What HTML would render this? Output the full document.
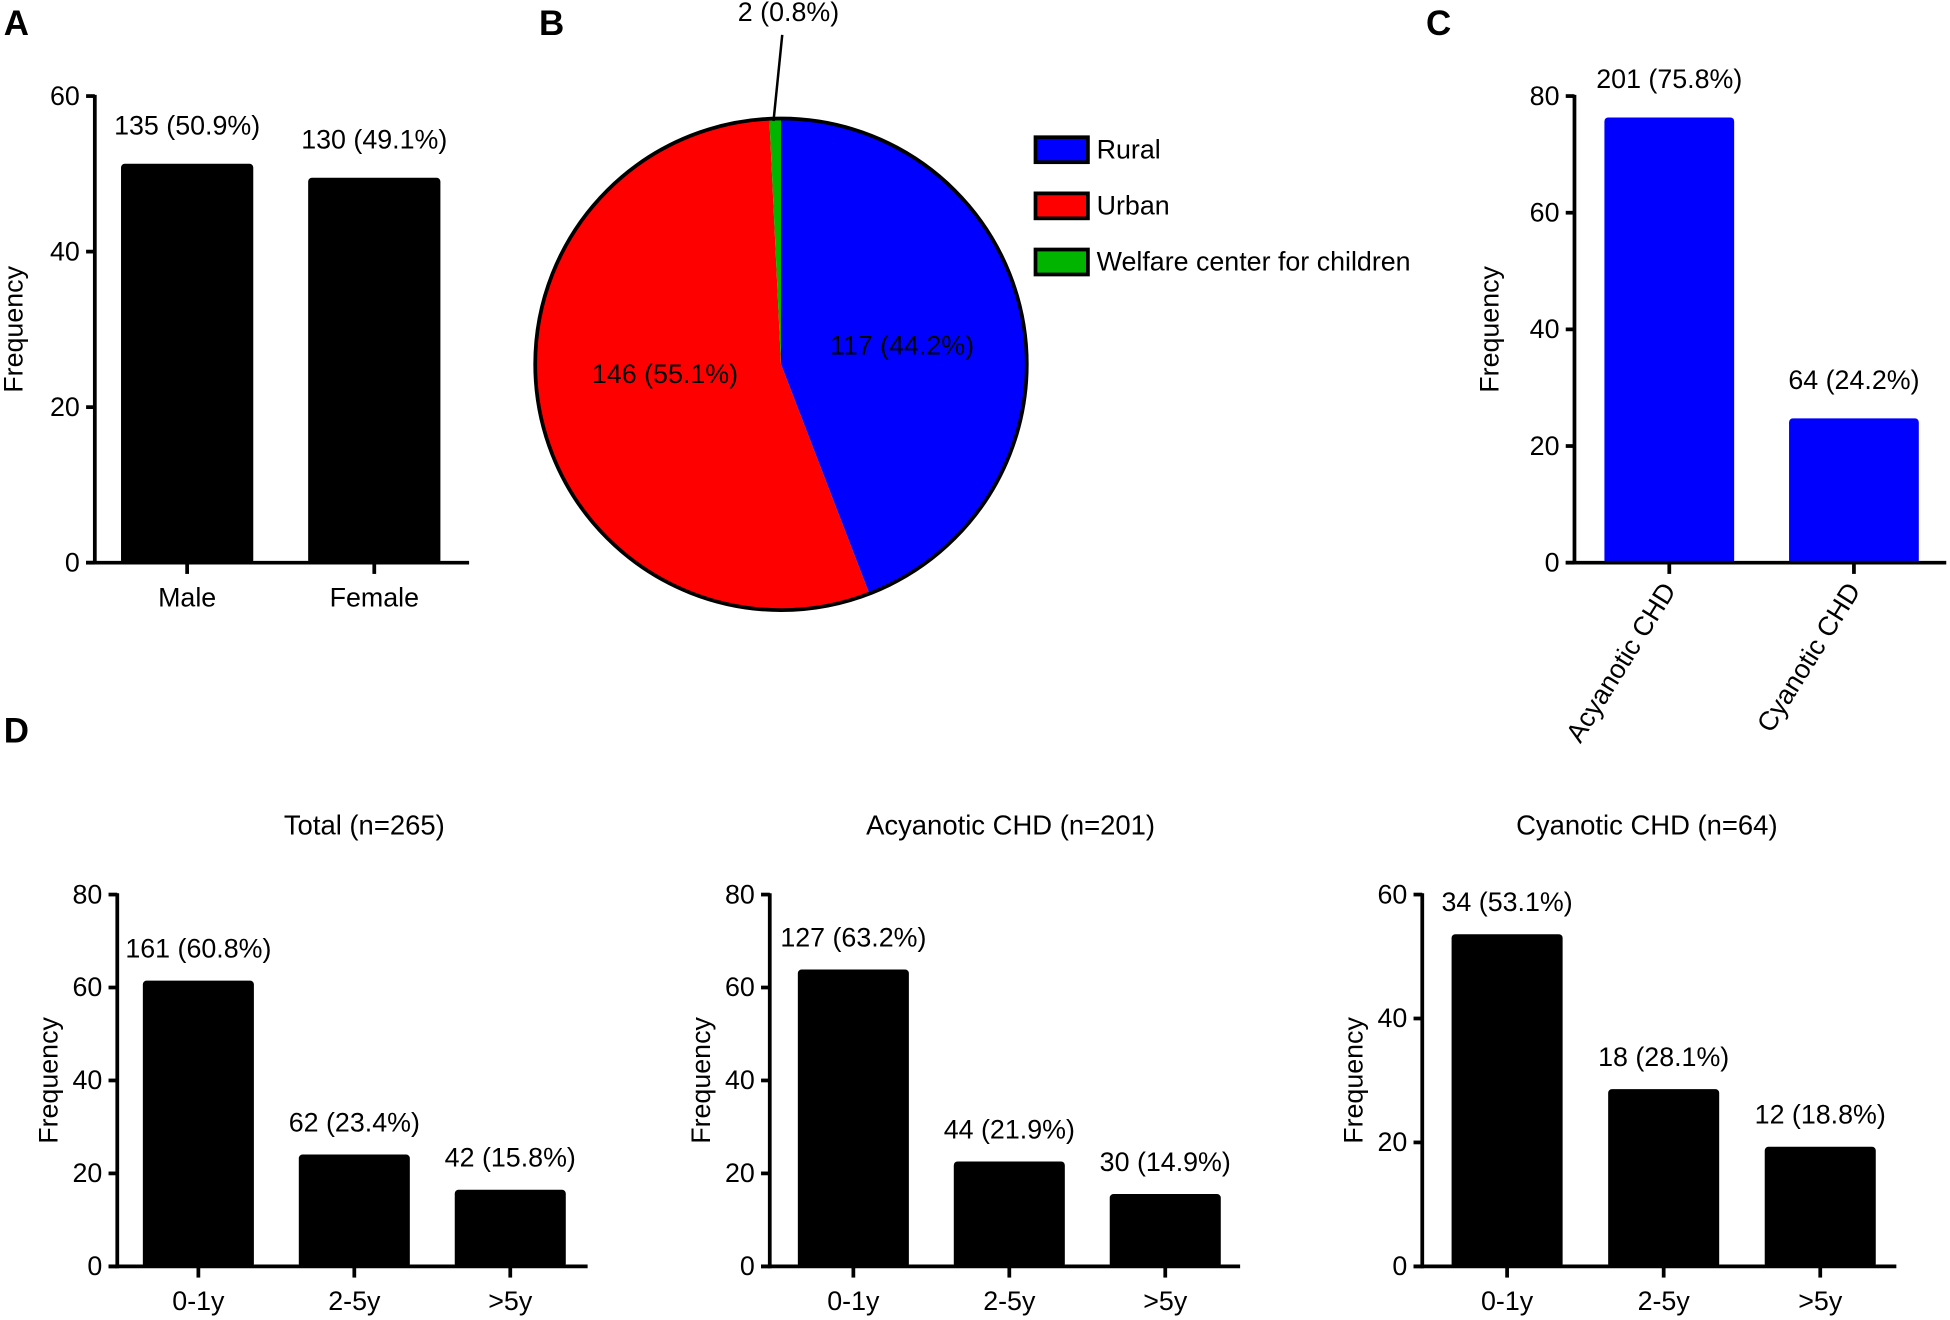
<!DOCTYPE html>
<html><head><meta charset="utf-8"><style>
html,body{margin:0;padding:0;background:#fff;}
svg{display:block;font-family:"Liberation Sans",Arial,sans-serif;}
</style></head><body>
<svg id="fig" width="1950" height="1320" viewBox="0 0 1563 1058" preserveAspectRatio="none" xmlns="http://www.w3.org/2000/svg">
<text x="3" y="28" font-size="28" font-weight="bold">A</text>
<text x="432" y="28" font-size="28" font-weight="bold">B</text>
<text x="1143" y="28" font-size="28" font-weight="bold">C</text>
<text x="3" y="595" font-size="28" font-weight="bold">D</text>
<g id="charts"></g>
</svg>
<script>
// Panel A
const catsA = ["Male","Female"];
const valsA = [50.9, 49.1];
const labelsA = ["135 (50.9%)","130 (49.1%)"];
const ticksA = [0,20,40,60];
// Panel C
const catsC = ["Acyanotic CHD","Cyanotic CHD"];
const valsC = [75.8, 24.2];
const labelsC = ["201 (75.8%)","64 (24.2%)"];
const ticksC = [0,20,40,60,80];
// Panel D
const catsD = ["0-1y","2-5y",">5y"];
const valsD1 = [60.8, 23.4, 15.8];
const labelsD1 = ["161 (60.8%)","62 (23.4%)","42 (15.8%)"];
const valsD2 = [63.2, 21.9, 14.9];
const labelsD2 = ["127 (63.2%)","44 (21.9%)","30 (14.9%)"];
const valsD3 = [53.1, 28.1, 18.8];
const labelsD3 = ["34 (53.1%)","18 (28.1%)","12 (18.8%)"];
const ticksD80 = [0,20,40,60,80];
const ticksD60 = [0,20,40,60];
// Panel B
const pieCats = ["Rural","Urban","Welfare center for children"];
const pieVals = [117, 146, 2];
const pieLabels = ["117 (44.2%)","146 (55.1%)","2 (0.8%)"];

const FS=21.5;
const NS="http://www.w3.org/2000/svg";
const root=document.getElementById('charts');
function el(tag,attrs,parent,txt){const e=document.createElementNS(NS,tag);for(const k in attrs)e.setAttribute(k,attrs[k]);if(txt!==undefined)e.textContent=txt;(parent||root).appendChild(e);return e;}

function barChart(o){
  const g=el('g',{});
  
  
  const y=v=>o.y0-(v/o.max)*(o.y0-o.yTop);
  const xc=i=>o.x0+o.firstC+i*o.step;
  o.vals.forEach((v,i)=>{
    const r=el('rect',{x:xc(i)-o.bw/2,y:y(v)-1.5,width:o.bw,height:o.y0-y(v)+1.5,fill:o.color,stroke:o.color,'stroke-width':2,rx:2},g);
    
    
    const t=el('text',{x:xc(i),y:y(v)-o.lblOff,'font-size':FS,'text-anchor':'middle'},g,o.labels[i]);
    
    
    el('line',{x1:xc(i),y1:o.y0,x2:xc(i),y2:o.y0+9,stroke:'#000','stroke-width':3},g);
    let xl;
    if(o.rot){
      xl=el('text',{x:xc(i)+6,y:o.y0+22,'font-size':FS,'text-anchor':'end',transform:`rotate(-58 ${xc(i)+6} ${o.y0+22})`},g,o.cats[i]);
    } else {
      xl=el('text',{x:xc(i),y:o.y0+35,'font-size':FS,'text-anchor':'middle'},g,o.cats[i]);
    }
    
    
  });
  el('line',{x1:o.x0,y1:o.yTop-1,x2:o.x0,y2:o.y0+1.5,stroke:'#000','stroke-width':3},g);
  el('line',{x1:o.x0-7,y1:o.y0,x2:o.xEnd,y2:o.y0,stroke:'#000','stroke-width':3},g);
  o.ticks.forEach(t=>{
    el('line',{x1:o.x0-7,y1:y(t),x2:o.x0,y2:y(t),stroke:'#000','stroke-width':3},g);
    const tl=el('text',{x:o.x0-12,y:y(t)+7,'font-size':FS,'text-anchor':'end'},g,String(t));
    
    
  });
  const yt=el('text',{x:o.ytX,y:(o.y0+o.yTop)/2,'font-size':FS,'text-anchor':'middle',transform:`rotate(-90 ${o.ytX} ${(o.y0+o.yTop)/2})`},g,'Frequency');
  
  
  if(o.title){
    const tt=el('text',{x:o.titleX,y:669,'font-size':22,'text-anchor':'middle'},g,o.title);
    
    
  }
}

barChart({name:'chart-a-sex',cats:catsA,vals:valsA,labels:labelsA,ticks:ticksA,max:60,x0:76,y0:451,yTop:77,xEnd:376,firstC:74,step:150,bw:104,color:'#000',lblOff:26,ytX:18});
barChart({name:'chart-c-type',cats:catsC,vals:valsC,labels:labelsC,ticks:ticksC,max:80,x0:1262,y0:451,yTop:77,xEnd:1560,firstC:76,step:148,bw:102,color:'#0000ff',lblOff:26,ytX:1201,rot:true});
barChart({name:'chart-d-total',cats:catsD,vals:valsD1,labels:labelsD1,ticks:ticksD80,max:80,x0:94,y0:1015,yTop:717,xEnd:471,firstC:65,step:125,bw:87,color:'#000',lblOff:21,ytX:46,title:'Total (n=265)',titleX:292});
barChart({name:'chart-d-acyanotic',cats:catsD,vals:valsD2,labels:labelsD2,ticks:ticksD80,max:80,x0:617,y0:1015,yTop:717,xEnd:994,firstC:67,step:125,bw:87,color:'#000',lblOff:21,ytX:569,title:'Acyanotic CHD (n=201)',titleX:810});
barChart({name:'chart-d-cyanotic',cats:catsD,vals:valsD3,labels:labelsD3,ticks:ticksD60,max:60,x0:1140,y0:1015,yTop:717,xEnd:1520,firstC:68,step:125.5,bw:87,color:'#000',lblOff:21,ytX:1092,title:'Cyanotic CHD (n=64)',titleX:1320});

// Pie
const cx=626, cy=292, R=197;
const colors=['#0000ff','#ff0000','#00b400'];
const total=pieVals.reduce((a,b)=>a+b,0);
const pg=el('g',{});


let a0=0;
const pt=a=>[cx+R*Math.sin(a),cy-R*Math.cos(a)];
pieVals.forEach((v,i)=>{
  const a1=a0+v/total*2*Math.PI;
  const [x0,y0]=pt(a0),[x1,y1]=pt(a1);
  const s=el('path',{d:`M${cx},${cy} L${x0},${y0} A${R},${R} 0 ${a1-a0>Math.PI?1:0} 1 ${x1},${y1} Z`,fill:colors[i],stroke:'none'},pg);
  
  
  a0=a1;
});
el('circle',{cx:cx,cy:cy,r:R,fill:'none',stroke:'#000','stroke-width':3},pg);
const l1=el('text',{x:723,y:284,'font-size':FS,'text-anchor':'middle'},pg,pieLabels[0]);


const l2=el('text',{x:533,y:307,'font-size':FS,'text-anchor':'middle'},pg,pieLabels[1]);


const l3=el('text',{x:632,y:17,'font-size':FS,'text-anchor':'middle'},pg,pieLabels[2]);


el('line',{x1:627,y1:28,x2:620,y2:97,stroke:'#000','stroke-width':2},pg);
pieCats.forEach((c,i)=>{
  const lg=el('g',{},pg);
  
  
  el('rect',{x:830,y:110+i*45,width:42,height:20,fill:colors[i],stroke:'#000','stroke-width':3},lg);
  el('text',{x:879,y:127+i*45,'font-size':FS},lg,c);
});
</script>
</body></html>
